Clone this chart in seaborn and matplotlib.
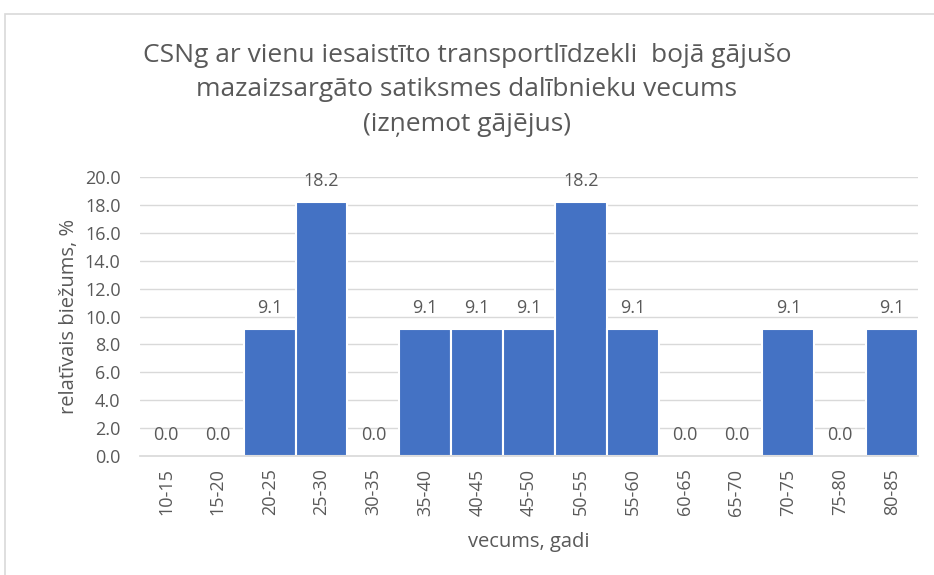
import matplotlib
matplotlib.use("Agg")
import matplotlib.pyplot as plt
import seaborn as sns
import pandas as pd
from matplotlib.patches import Rectangle

# age groups and relative frequency, %
age_groups = ["10-15", "15-20", "20-25", "25-30", "30-35", "35-40", "40-45", "45-50",
              "50-55", "55-60", "60-65", "65-70", "70-75", "75-80", "80-85"]
freq = [0.0, 0.0, 9.1, 18.2, 0.0, 9.1, 9.1, 9.1, 18.2, 9.1, 0.0, 0.0, 9.1, 0.0, 9.1]

title = "CSNg ar vienu iesaistīto transportlīdzekli  bojā gājušo\nmazaizsargāto satiksmes dalībnieku vecums\n(izņemot gājējus)"

sns.set_theme(style="white")
plt.rcParams["font.family"] = ["Open Sans", "DejaVu Sans"]

df = pd.DataFrame({"vecums": age_groups, "biezums": freq})

fig = plt.figure(figsize=(9.34, 5.75), dpi=100)
ax = fig.add_axes([140 / 934, 1 - 456 / 575, 778 / 934, 279 / 575])

sns.barplot(data=df, x="vecums", y="biezums", color="#4472C4", saturation=1,
            width=1.0, edgecolor="white", linewidth=1.5, ax=ax)

grey = "#595959"
for i, v in enumerate(freq):
    ax.annotate(f"{v:.1f}", (i, v), xytext=(0, 9), textcoords="offset points",
                ha="center", va="bottom", fontsize=13, color=grey)

ax.set_ylim(0, 20)
ax.set_yticks([0, 2, 4, 6, 8, 10, 12, 14, 16, 18, 20])
ax.set_yticklabels([f"{t:.1f}" for t in ax.get_yticks()], fontsize=13, color=grey)
ax.set_xlim(-0.5, len(age_groups) - 0.5)
ax.set_xticks(range(len(age_groups)))
ax.set_xticklabels(age_groups, rotation=90, fontsize=13, color=grey)
ax.tick_params(axis="y", length=0, pad=14)
ax.tick_params(axis="x", length=0, pad=9)
ax.yaxis.grid(True, color="#d9d9d9", linewidth=1)
ax.set_axisbelow(True)
for side in ["left", "right", "top"]:
    ax.spines[side].set_visible(False)
ax.spines["bottom"].set_color("#d9d9d9")

ax.set_xlabel("vecums, gadi", fontsize=14.5, color=grey, labelpad=12)
ax.set_ylabel("relatīvais biežums, %", fontsize=14.5, color=grey, labelpad=4)

fig.text(0.5, 1 - 90 / 575, title, ha="center", va="center", fontsize=19,
         color=grey, linespacing=1.5)

# chart area frame
fig.patches.append(Rectangle((5 / 934, -0.01), 1.0, 1 - 14 / 575 + 0.01,
                             transform=fig.transFigure, fill=False,
                             edgecolor="#d9d9d9", linewidth=1.2))

fig.savefig("out.png", dpi=100)
